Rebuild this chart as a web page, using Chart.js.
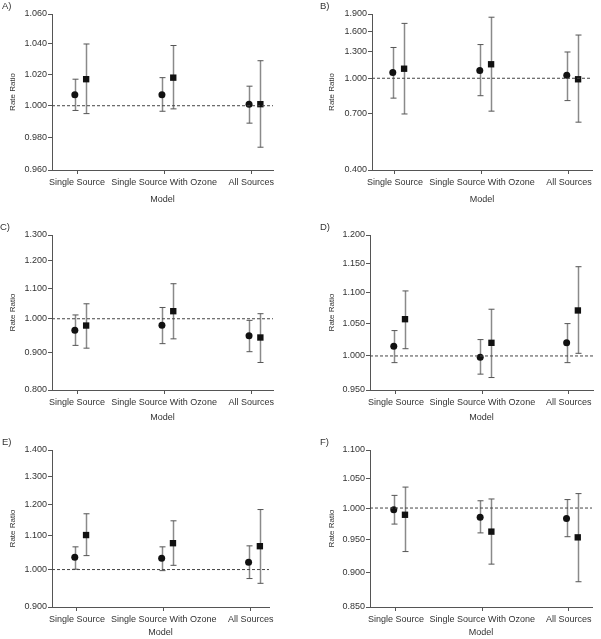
<!DOCTYPE html>
<html>
<head>
<meta charset="utf-8">
<script src="https://cdn.jsdelivr.net/npm/chart.js@4.4.1/dist/chart.umd.min.js"></script>
<style>
  body { margin: 0; background: #fff; }
  #wrap { position: relative; width: 601px; height: 639px; overflow: hidden; }
  canvas { position: absolute; }
  .tag { position: absolute; font: 9.5px "Liberation Sans", Arial, sans-serif; color: #333; }
</style>
</head>
<body>
<div id="wrap"></div>
<script>
// categories shared by all panels
const categories = ['Single Source', 'Single Source With Ozone', 'All Sources'];

// A) rate ratios: circle series and square series, with lower/upper limits
const circleA = [1.007, 1.007, 1.001];
const circleLoA = [0.997, 0.9965, 0.989];
const circleHiA = [1.017, 1.018, 1.0125];
const squareA = [1.017, 1.018, 1.001];
const squareLoA = [0.995, 0.998, 0.974];
const squareHiA = [1.040, 1.039, 1.029];
const ticksA = [0.96, 0.98, 1.00, 1.02, 1.04, 1.06];

// B)
const circleB = [1.06, 1.08, 1.03];
const circleLoB = [0.82, 0.84, 0.80];
const circleHiB = [1.36, 1.40, 1.30];
const squareB = [1.10, 1.15, 0.99];
const squareLoB = [0.70, 0.72, 0.645];
const squareHiB = [1.73, 1.84, 1.54];
const ticksB = [0.4, 0.7, 1.0, 1.3, 1.6, 1.9];

// C)
const circleC = [0.965, 0.980, 0.948];
const circleLoC = [0.920, 0.925, 0.902];
const circleHiC = [1.012, 1.036, 0.995];
const squareC = [0.979, 1.024, 0.943];
const squareLoC = [0.912, 0.939, 0.872];
const squareHiC = [1.048, 1.116, 1.016];
const ticksC = [0.8, 0.9, 1.0, 1.1, 1.2, 1.3];

// D)
const circleD = [1.0146, 0.998, 1.020];
const circleLoD = [0.990, 0.973, 0.990];
const circleHiD = [1.039, 1.025, 1.050];
const squareD = [1.057, 1.020, 1.071];
const squareLoD = [1.011, 0.968, 1.004];
const squareHiD = [1.103, 1.073, 1.144];
const ticksD = [0.95, 1.00, 1.05, 1.10, 1.15, 1.20];

// E)
const circleE = [1.035, 1.032, 1.021];
const circleLoE = [1.001, 0.997, 0.975];
const circleHiE = [1.066, 1.066, 1.069];
const squareE = [1.102, 1.077, 1.068];
const squareLoE = [1.040, 1.012, 0.962];
const squareHiE = [1.170, 1.147, 1.184];
const ticksE = [0.9, 1.0, 1.1, 1.2, 1.3, 1.4];

// F)
const circleF = [0.997, 0.985, 0.983];
const circleLoF = [0.974, 0.960, 0.954];
const circleHiF = [1.021, 1.012, 1.014];
const squareF = [0.989, 0.962, 0.953];
const squareLoF = [0.931, 0.912, 0.886];
const squareHiF = [1.035, 1.015, 1.024];
const ticksF = [0.85, 0.90, 0.95, 1.00, 1.05, 1.10];

const FONT = '"Liberation Sans", Arial, sans-serif';
const TEXT = '#333';
const AXIS = '#555';

// panel placement (canvas box, plot box inside the canvas, title positions)
const panels = [
  { tag: 'A)', tx: 2, ty: 0, left: 0, top: 0, w: 300, h: 215, pl: 52, pt: 14, pr: 273, pb: 170, titleX: 13, modelY: 200, xMin: 0.713, xMax: 3.25,
    c: circleA, cLo: circleLoA, cHi: circleHiA, s: squareA, sLo: squareLoA, sHi: squareHiA, ticks: ticksA },
  { tag: 'B)', tx: 320, ty: 0, left: 300, top: 0, w: 301, h: 215, pl: 72, pt: 14, pr: 292, pb: 170, titleX: 32, modelY: 200, xMin: 0.736, xMax: 3.265,
    c: circleB, cLo: circleLoB, cHi: circleHiB, s: squareB, sLo: squareLoB, sHi: squareHiB, ticks: ticksB },
  { tag: 'C)', tx: 0, ty: 221, left: 0, top: 215, w: 300, h: 210, pl: 52, pt: 20, pr: 273, pb: 175, titleX: 13, modelY: 203, xMin: 0.713, xMax: 3.25,
    c: circleC, cLo: circleLoC, cHi: circleHiC, s: squareC, sLo: squareLoC, sHi: squareHiC, ticks: ticksC },
  { tag: 'D)', tx: 320, ty: 221, left: 300, top: 215, w: 301, h: 210, pl: 70, pt: 20, pr: 293, pb: 175, titleX: 32, modelY: 203, xMin: 0.70, xMax: 3.28,
    c: circleD, cLo: circleLoD, cHi: circleHiD, s: squareD, sLo: squareLoD, sHi: squareHiD, ticks: ticksD },
  { tag: 'E)', tx: 2, ty: 436, left: 0, top: 425, w: 300, h: 214, pl: 52, pt: 25, pr: 269, pb: 182, titleX: 13, modelY: 208, xMin: 0.713, xMax: 3.21,
    c: circleE, cLo: circleLoE, cHi: circleHiE, s: squareE, sLo: squareLoE, sHi: squareHiE, ticks: ticksE },
  { tag: 'F)', tx: 320, ty: 436, left: 300, top: 425, w: 301, h: 214, pl: 70, pt: 25, pr: 292, pb: 182, titleX: 32, modelY: 208, xMin: 0.70, xMax: 3.27,
    c: circleF, cLo: circleLoF, cHi: circleHiF, s: squareF, sLo: squareLoF, sHi: squareHiF, ticks: ticksF }
];

const CIRCLE_DX = -0.025;
const SQUARE_DX = 0.105;

// vertical whiskers with caps, drawn under the markers
const errorBars = {
  id: 'errorBars',
  beforeDatasetsDraw(chart) {
    const { ctx, scales: { x, y } } = chart;
    ctx.save();
    chart.data.datasets.forEach(ds => {
      if (!ds.lo) return;
      ds.data.forEach((p, i) => {
        const px = Math.round(x.getPixelForValue(p.x)) + 0.5;
        const top = y.getPixelForValue(ds.hi[i]);
        const bot = y.getPixelForValue(ds.lo[i]);
        ctx.strokeStyle = '#8a8a8a';
        ctx.lineWidth = 1.5;
        ctx.beginPath();
        ctx.moveTo(px, top);
        ctx.lineTo(px, bot);
        ctx.stroke();
        ctx.strokeStyle = '#555';
        ctx.lineWidth = 1;
        ctx.beginPath();
        ctx.moveTo(px - 3, top);
        ctx.lineTo(px + 3, top);
        ctx.moveTo(px - 3, bot);
        ctx.lineTo(px + 3, bot);
        ctx.stroke();
      });
    });
    ctx.restore();
  }
};

const wrap = document.getElementById('wrap');

function makePanel(p) {
  const canvas = document.createElement('canvas');
  canvas.width = p.w;
  canvas.height = p.h;
  canvas.style.left = p.left + 'px';
  canvas.style.top = p.top + 'px';
  wrap.appendChild(canvas);

  const tag = document.createElement('div');
  tag.className = 'tag';
  tag.textContent = p.tag;
  tag.style.left = p.tx + 'px';
  tag.style.top = p.ty + 'px';
  wrap.appendChild(tag);

  const yTitleSize = 8;
  const yTitleLH = yTitleSize * 1.2;
  const xFontSize = 9;
  const xTitleLH = xFontSize * 1.2;
  const padLeft = p.titleX - yTitleLH / 2;
  const xAxisH = p.modelY + xTitleLH / 2 - p.pb;

  new Chart(canvas, {
    type: 'scatter',
    data: {
      datasets: [
        {
          label: 'ref',
          type: 'line',
          data: [{ x: p.xMin, y: 1 }, { x: p.xMax, y: 1 }],
          borderColor: '#444',
          borderWidth: 1,
          borderDash: [3, 2],
          pointRadius: 0,
          fill: false
        },
        {
          label: 'circle',
          data: p.c.map((v, i) => ({ x: i + 1 + CIRCLE_DX, y: v })),
          lo: p.cLo,
          hi: p.cHi,
          pointStyle: 'circle',
          pointRadius: 3.5,
          backgroundColor: '#111',
          borderColor: '#111',
          borderWidth: 0
        },
        {
          label: 'square',
          data: p.s.map((v, i) => ({ x: i + 1 + SQUARE_DX, y: v })),
          lo: p.sLo,
          hi: p.sHi,
          pointStyle: 'rect',
          pointRadius: 4.5,
          backgroundColor: '#111',
          borderColor: '#111',
          borderWidth: 0
        }
      ]
    },
    options: {
      responsive: false,
      animation: false,
      devicePixelRatio: 1,
      layout: {
        padding: { left: padLeft, top: p.pt, right: p.w - p.pr, bottom: p.h - p.pb - xAxisH }
      },
      plugins: { legend: { display: false }, tooltip: { enabled: false } },
      scales: {
        x: {
          type: 'linear',
          min: p.xMin,
          max: p.xMax,
          afterBuildTicks: s => { s.ticks = [1, 2, 3].map(v => ({ value: v })); },
          afterFit: s => { s.height = xAxisH; },
          ticks: {
            autoSkip: false,
            maxRotation: 0,
            padding: 3,
            color: TEXT,
            font: { family: FONT, size: xFontSize },
            callback: v => categories[v - 1]
          },
          grid: { drawOnChartArea: false, drawTicks: true, tickLength: 4, color: AXIS },
          border: { display: true, color: AXIS, width: 1 },
          title: { display: true, text: 'Model', color: TEXT, font: { family: FONT, size: xFontSize }, padding: 0 }
        },
        y: {
          type: 'logarithmic',
          min: p.ticks[0],
          max: p.ticks[p.ticks.length - 1],
          afterBuildTicks: s => { s.ticks = p.ticks.map(v => ({ value: v })); },
          afterFit: s => { s.width = p.pl - padLeft; },
          ticks: {
            padding: 1,
            color: TEXT,
            font: { family: FONT, size: 9 },
            callback: v => Number(v).toFixed(3)
          },
          grid: { drawOnChartArea: false, drawTicks: true, tickLength: 4, color: AXIS },
          border: { display: true, color: AXIS, width: 1 },
          title: { display: true, text: 'Rate Ratio', color: TEXT, font: { family: FONT, size: yTitleSize }, padding: 0 }
        }
      }
    },
    plugins: [errorBars]
  });
}

panels.forEach(makePanel);
</script>
</body>
</html>
